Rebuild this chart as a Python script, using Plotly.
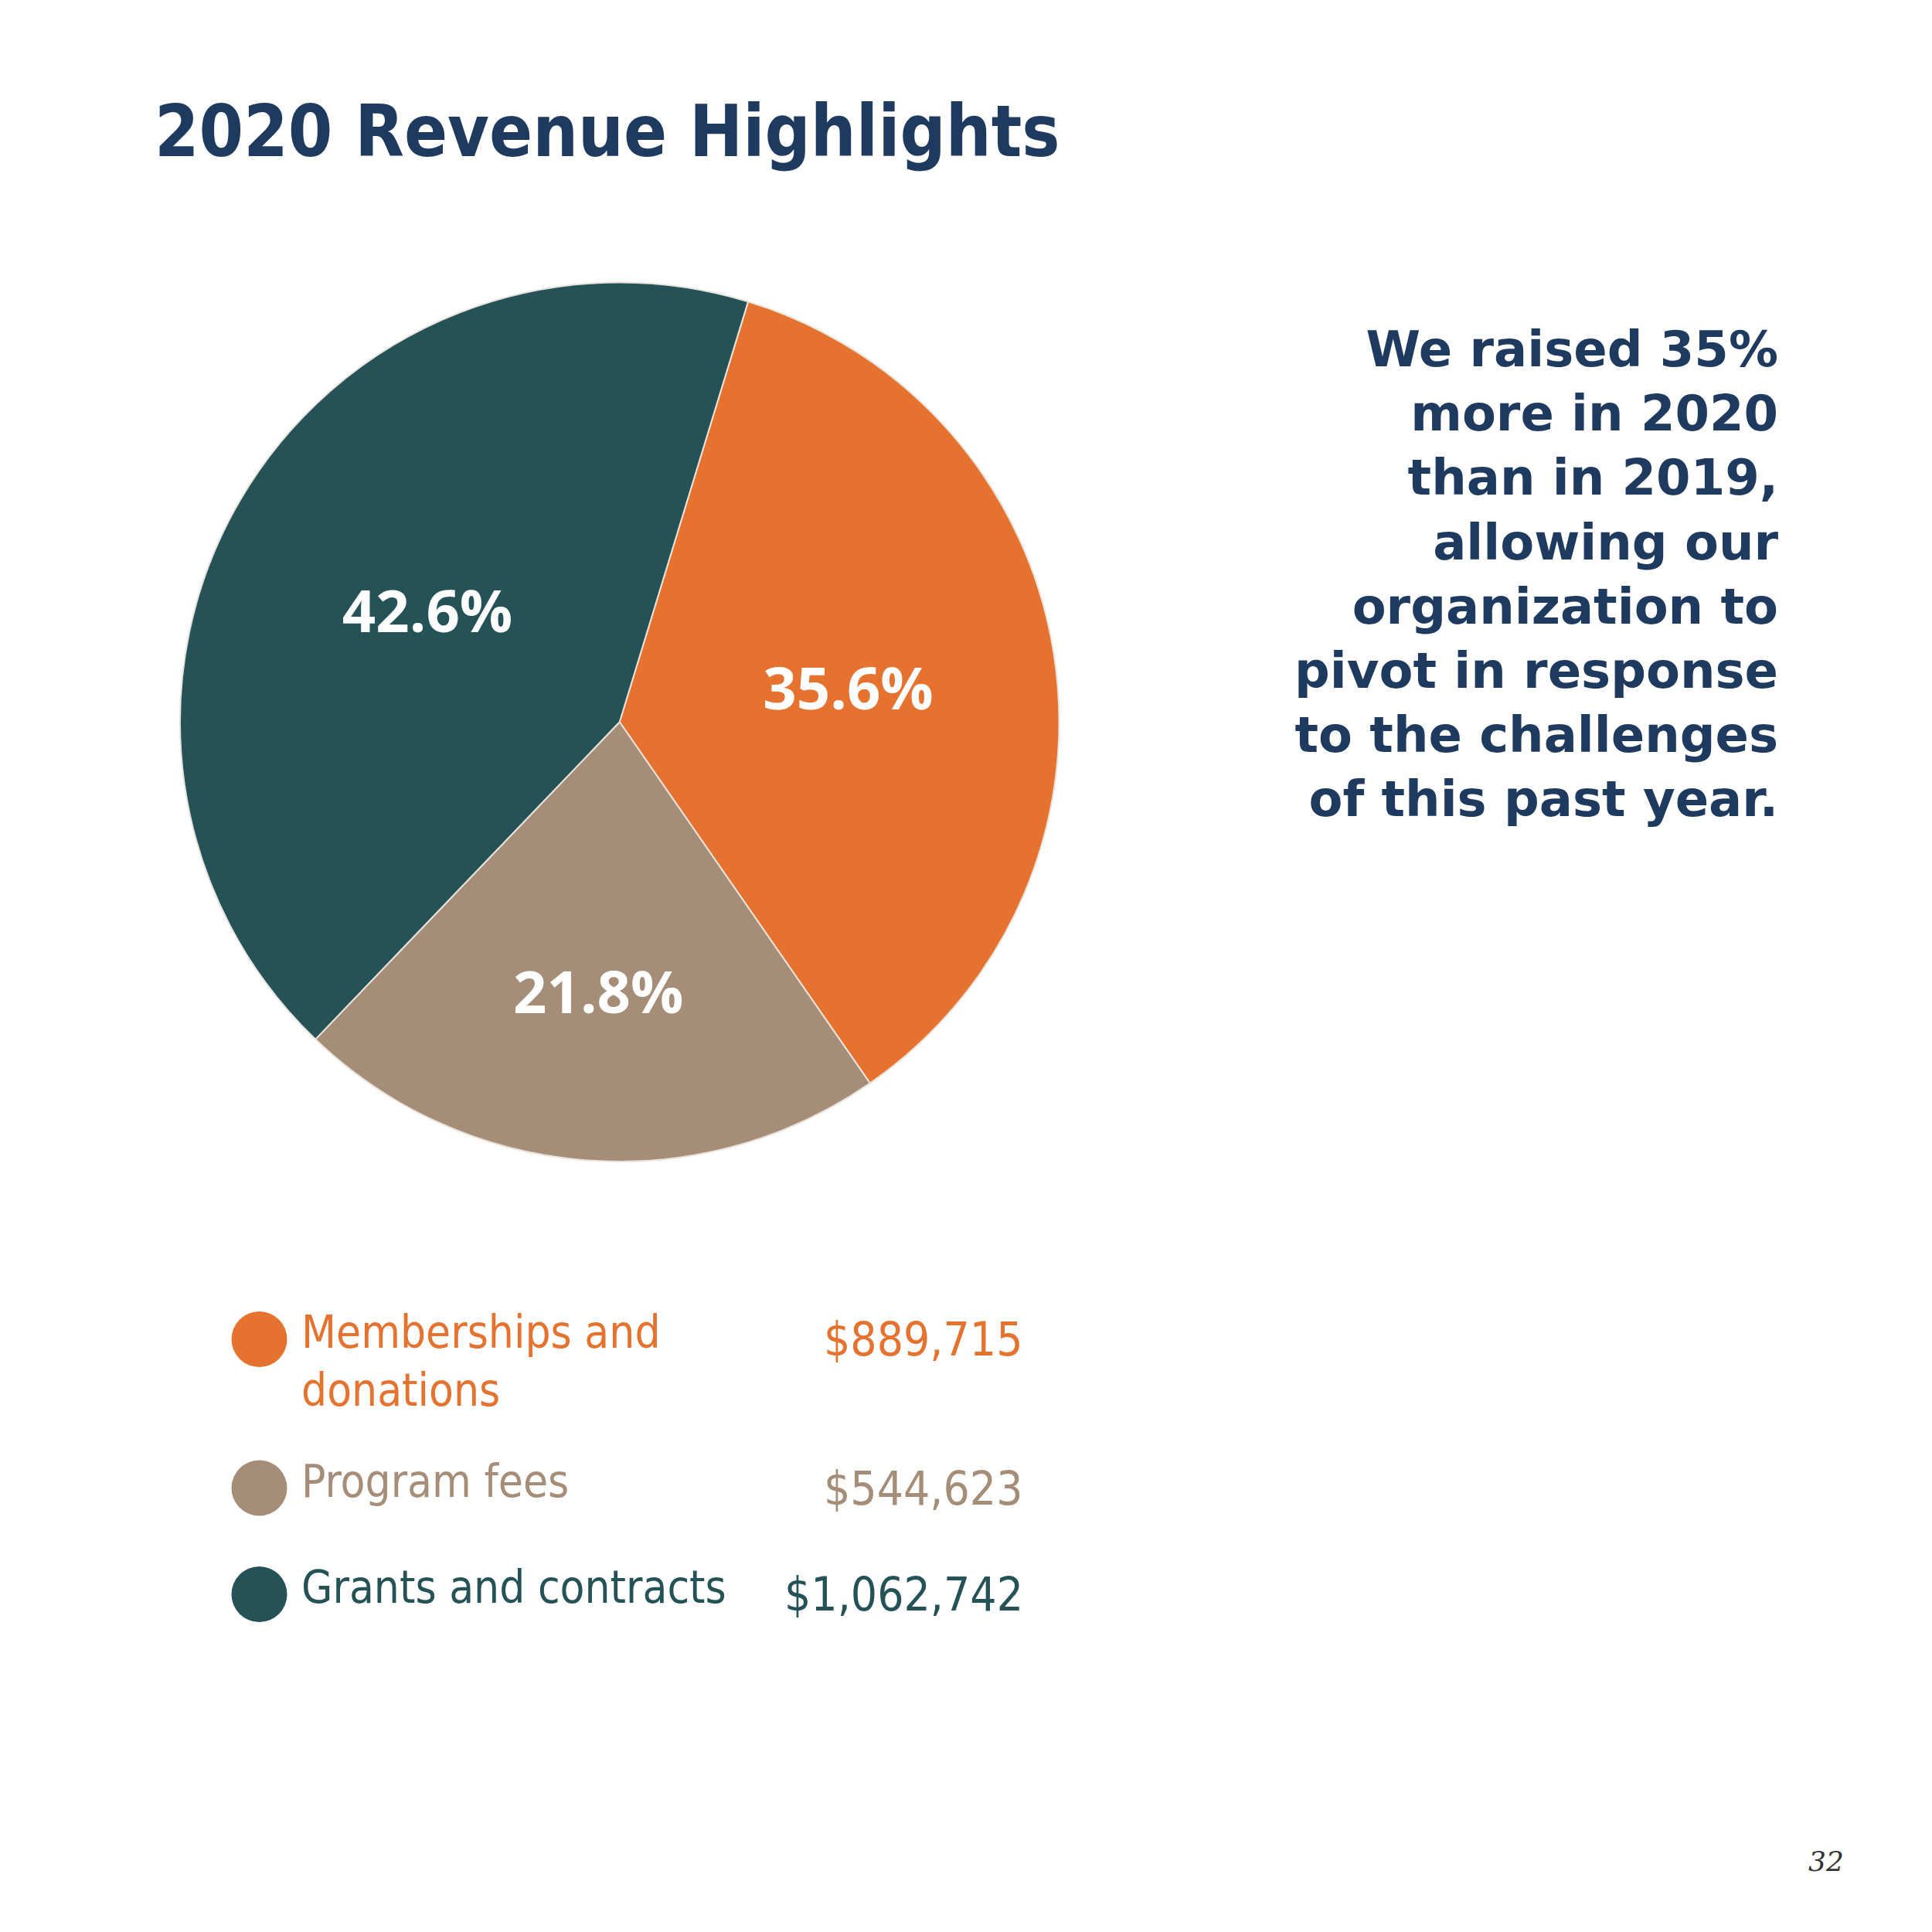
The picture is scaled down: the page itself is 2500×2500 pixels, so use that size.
import plotly.graph_objects as go

labels = ["Memberships and donations", "Program fees", "Grants and contracts"]
legend_text = ["Memberships and<br>donations", "Program fees", "Grants and contracts"]
amounts = [889715, 544623, 1062742]
amount_labels = ["$889,715", "$544,623", "$1,062,742"]
colors = ["#E5722E", "#A58D78", "#255257"]
navy = "#1F3A5F"

fig = go.Figure()
fig.add_trace(go.Pie(
    labels=labels, values=amounts, sort=False, direction="clockwise", rotation=17,
    marker=dict(colors=colors, line=dict(color="#E8E2DA", width=2)),
    texttemplate="%{percent:.1%}", textposition="inside",
    insidetextfont=dict(family="Open Sans", size=76, color="white", weight="bold"),
    domain=dict(x=[0.09, 0.545], y=[0.402, 0.857]),
    showlegend=False, hoverinfo="label+value+percent",
))

fig.add_annotation(text="<b>2020 Revenue Highlights</b>", x=0.076, y=0.935, xref="paper", yref="paper",
                   xanchor="left", yanchor="middle", showarrow=False,
                   font=dict(family="DejaVu Sans Condensed", size=92, color=navy))

para = ("We raised 35%<br>more in 2020<br>than in 2019,<br>allowing our<br>organization to"
        "<br>pivot in response<br>to the challenges<br>of this past year.")
fig.add_annotation(text="<b>" + para + "</b>", x=0.918, y=0.838, xref="paper", yref="paper",
                   xanchor="right", yanchor="top", align="right", showarrow=False,
                   font=dict(family="DejaVu Sans", size=64, color=navy))

rows_y = [0.31, 0.233, 0.178]
for i in range(3):
    fig.add_trace(go.Scatter(x=[0.131], y=[rows_y[i]], mode="markers", showlegend=False,
                             marker=dict(size=72, color=colors[i]), hoverinfo="skip"))
    fig.add_annotation(text=legend_text[i], x=0.152, y=rows_y[i] + 0.018, xref="paper", yref="paper",
                       xanchor="left", yanchor="top", align="left", showarrow=False,
                       font=dict(family="DejaVu Sans Condensed", size=58, color=colors[i]))
    fig.add_annotation(text=amount_labels[i], x=0.527, y=rows_y[i], xref="paper", yref="paper",
                       xanchor="right", yanchor="middle", showarrow=False,
                       font=dict(family="DejaVu Sans Condensed", size=60, color=colors[i]))

fig.add_annotation(text="<i>32</i>", x=0.952, y=0.04, xref="paper", yref="paper",
                   xanchor="right", yanchor="middle", showarrow=False,
                   font=dict(family="DejaVu Serif", size=36, color="#333333"))

fig.update_layout(width=2500, height=2500, margin=dict(l=0, r=0, t=0, b=0),
                  paper_bgcolor="white", plot_bgcolor="white",
                  xaxis=dict(range=[0, 1], visible=False, domain=[0, 1]),
                  yaxis=dict(range=[0, 1], visible=False, domain=[0, 1]))

fig.write_html("out.html")
